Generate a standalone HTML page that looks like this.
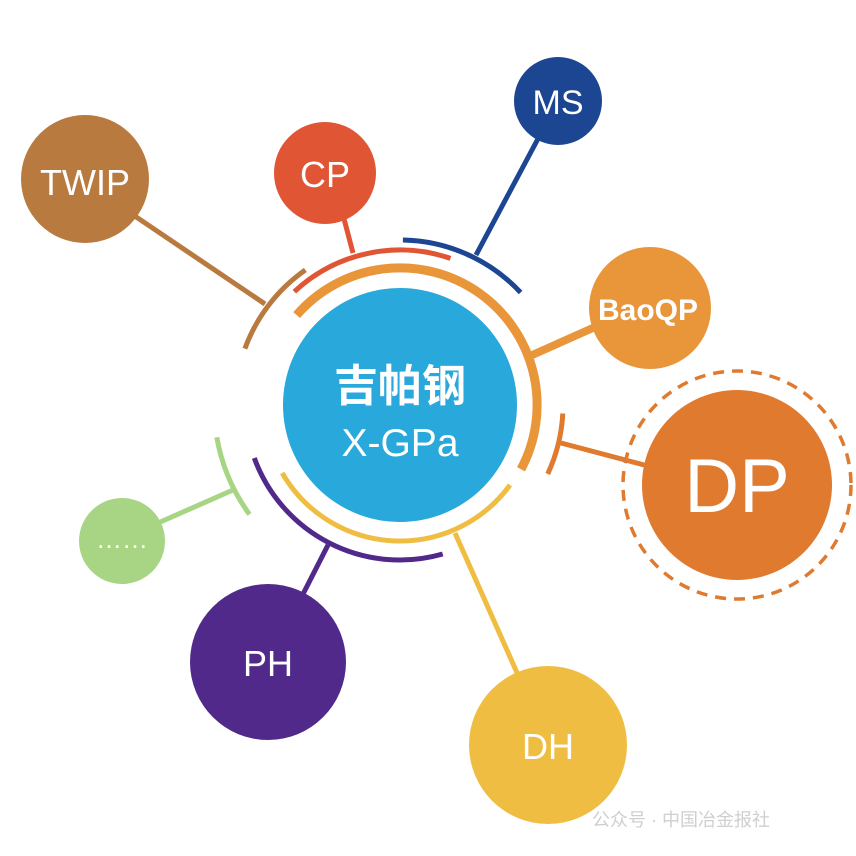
<!DOCTYPE html>
<html><head><meta charset="utf-8"><style>
html,body{margin:0;padding:0;background:#fff;}
svg{display:block;}
text{font-family:"Liberation Sans","Noto Sans CJK SC",sans-serif;fill:#fff;}
</style></head><body>
<svg width="856" height="856" viewBox="0 0 856 856" xmlns="http://www.w3.org/2000/svg">
<g fill="none" stroke-linecap="butt">
<line x1="265" y1="304" x2="120" y2="206" stroke="#b97a40" stroke-width="5"/>
<line x1="353" y1="253" x2="343" y2="215" stroke="#e05534" stroke-width="5"/>
<line x1="476" y1="255" x2="540" y2="135" stroke="#1c4592" stroke-width="5"/>
<line x1="530" y1="356" x2="595" y2="327" stroke="#e9963a" stroke-width="8"/>
<line x1="561" y1="443" x2="648" y2="466" stroke="#df7a2f" stroke-width="5"/>
<line x1="455" y1="533" x2="518" y2="675" stroke="#efbd42" stroke-width="5"/>
<line x1="328" y1="545" x2="300" y2="600" stroke="#51298a" stroke-width="5"/>
<line x1="233" y1="490" x2="158" y2="523" stroke="#a8d584" stroke-width="5"/>
<path d="M296.6 315.1 A137 137 0 0 1 521 469.3" stroke="#e9963a" stroke-width="9"/>
<path d="M294.3 291.7 A155 155 0 0 1 450.5 258.4" stroke="#e05534" stroke-width="5"/>
<path d="M402.9 240 A165 165 0 0 1 520.6 292.5" stroke="#1c4592" stroke-width="5"/>
<path d="M244.9 348.6 A165 165 0 0 1 305.4 269.9" stroke="#b97a40" stroke-width="5"/>
<path d="M562.8 413.5 A163 163 0 0 1 547.7 473.9" stroke="#df7a2f" stroke-width="5"/>
<path d="M510 485 A136 136 0 0 1 282.2 473" stroke="#efbd42" stroke-width="5"/>
<path d="M442.7 554 A155 155 0 0 1 254.3 458" stroke="#51298a" stroke-width="5"/>
<path d="M249.5 514.4 A186 186 0 0 1 216.8 437.3" stroke="#a8d584" stroke-width="5"/>
<circle cx="737" cy="485" r="114" stroke="#df7a2f" stroke-width="3.5" stroke-dasharray="11 8"/>
</g>
<circle cx="400" cy="405" r="117" fill="#29a8dc"/>
<circle cx="85" cy="179" r="64" fill="#b97a40"/>
<circle cx="325" cy="173" r="51" fill="#e05534"/>
<circle cx="558" cy="101" r="44" fill="#1c4592"/>
<circle cx="650" cy="308" r="61" fill="#e9963a"/>
<circle cx="737" cy="485" r="95" fill="#df7a2f"/>
<circle cx="548" cy="745" r="79" fill="#efbd42"/>
<circle cx="268" cy="662" r="78" fill="#51298a"/>
<circle cx="122" cy="541" r="43" fill="#a8d584"/>
<text x="400" y="401" font-size="44" font-weight="bold" text-anchor="middle">吉帕钢</text>
<text x="400" y="456" font-size="39" text-anchor="middle">X-GPa</text>
<text x="85" y="195" font-size="36" text-anchor="middle">TWIP</text>
<text x="325" y="187" font-size="36" text-anchor="middle">CP</text>
<text x="558" y="114" font-size="34" text-anchor="middle">MS</text>
<text x="648" y="320" font-size="30" font-weight="bold" text-anchor="middle">BaoQP</text>
<text x="737" y="512" font-size="76" text-anchor="middle">DP</text>
<text x="548" y="759" font-size="36" text-anchor="middle">DH</text>
<text x="268" y="676" font-size="36" text-anchor="middle">PH</text>
<text x="122" y="548" font-size="26" text-anchor="middle">……</text>
<text x="592" y="826" font-size="18" style="fill:#cfcfcf">公众号 · 中国冶金报社</text>
</svg>
</body></html>
